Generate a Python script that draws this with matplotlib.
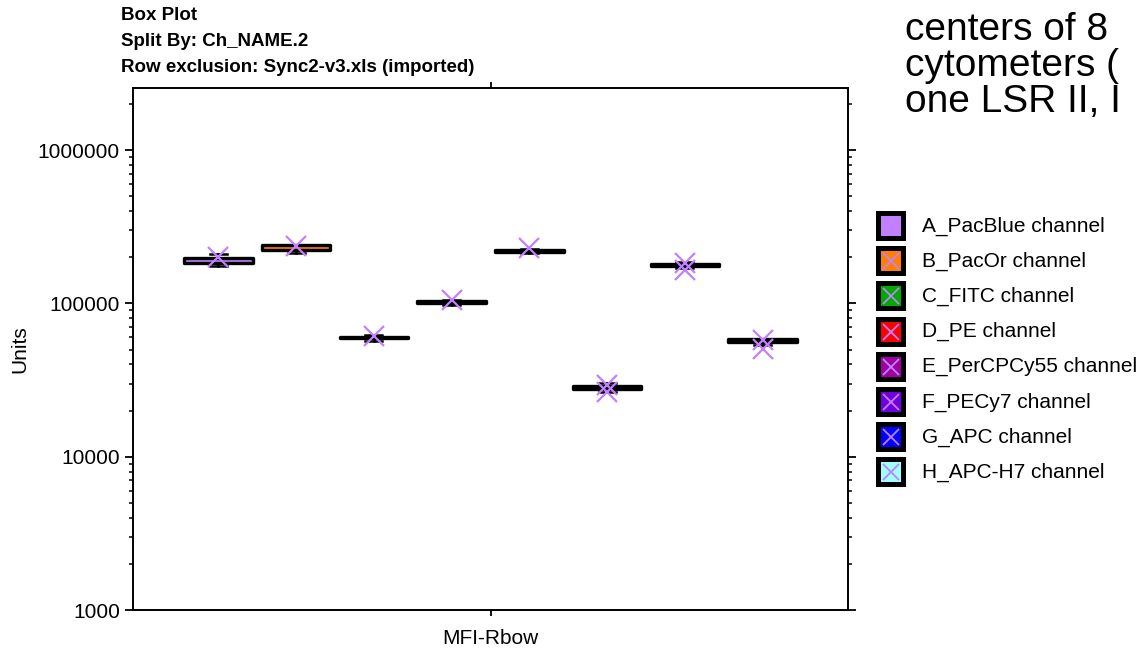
import matplotlib
matplotlib.use("Agg")
import matplotlib.pyplot as plt
from matplotlib.patches import Rectangle
from matplotlib.lines import Line2D

plt.rcParams["font.family"] = ["Liberation Sans", "DejaVu Sans"]

# channels, one box each
channels = ["A_PacBlue channel", "B_PacOr channel", "C_FITC channel", "D_PE channel",
            "E_PerCPCy55 channel", "F_PECy7 channel", "G_APC channel", "H_APC-H7 channel"]
colors = ["#C080FF", "#FF8000", "#00AA00", "#FF0000", "#A000A0", "#7000E0", "#0000FF", "#A0FFFF"]
medians = [190500, 230000, 59800, 101800, 218500, 28050, 178000, 57000]
q1 = [182700, 222300, 59020, 100800, 215800, 27450, 175900, 55590]
q3 = [198700, 238700, 60550, 102900, 221300, 28710, 180200, 58600]
whislo = [174000, 213300, 56850, 97300, 213300, 26430, 169400, 53540]
whishi = [208400, 238700, 62220, 105600, 224700, 30030, 186300, 58600]
points = [[201700], [236000], [61300], [105300], [228800],
          [29200, 26500], [182600, 165200], [58000, 50400]]
group_label = "MFI-Rbow"
title_lines = ["Box Plot", "Split By: Ch_NAME.2", "Row exclusion: Sync2-v3.xls (imported)"]
side_lines = ["centers of 8", "cytometers (", "one LSR II, I"]

W, H = 1138, 648
fig = plt.figure(figsize=(W / 100, H / 100), dpi=100)
ax = fig.add_axes([133 / W, 1 - 610 / H, (848 - 133) / W, (610 - 88) / H])

positions = list(range(1, len(channels) + 1))
stats = [dict(med=m, q1=a, q3=b, whislo=lo, whishi=hi, fliers=[])
         for m, a, b, lo, hi in zip(medians, q1, q3, whislo, whishi)]
bp = ax.bxp(stats, positions=positions, widths=0.88, capwidths=0.22, patch_artist=True,
            boxprops=dict(edgecolor="black", linewidth=2.4, joinstyle="round"),
            whiskerprops=dict(color="black", linewidth=1.8),
            capprops=dict(color="black", linewidth=1.8),
            medianprops=dict(visible=False))
for patch, c in zip(bp["boxes"], colors):
    patch.set_facecolor(c)

for pos, vals in zip(positions, points):
    ax.plot([pos] * len(vals), vals, "x", color="#C080FF", ms=14, mew=1.6, zorder=5)

ax.set_yscale("log")
ax.set_ylim(1000, 2.54e6)
ax.set_xlim(-0.1, 9.1)
ax.set_xticks([4.5])
ax.set_xticklabels([group_label])
ax.set_yticks([1000, 10000, 100000, 1000000])
ax.set_yticklabels(["1000", "10000", "100000", "1000000"])
ax.set_ylabel("Units", fontsize=15, labelpad=6)
ax.tick_params(axis="y", which="both", direction="out", left=True, right=True, labelsize=15)
ax.tick_params(axis="y", which="major", length=6, width=1.3)
ax.tick_params(axis="y", which="minor", length=3, width=1.1)
ax.tick_params(axis="x", direction="out", top=True, bottom=True, length=4, width=1.3,
               labelsize=15, pad=10)
for s in ax.spines.values():
    s.set_linewidth(1.4)

for i, line in enumerate(title_lines):
    fig.text(121 / W, 1 - (15 + 26.5 * i) / H, line, fontsize=13.5, fontweight="bold", va="center")

# slide text cut off at the right edge of the picture (baseline of last line)
fig.text(905 / W, 1 - 112 / H, "\n".join(side_lines), fontsize=28, va="baseline",
         linespacing=1.0)

# hand-drawn legend on the right
for i, (name, c) in enumerate(zip(channels, colors)):
    yc = 226 + 35.2 * i
    fig.add_artist(Rectangle((876 / W, 1 - (yc + 15) / H), 30 / W, 30 / H,
                             transform=fig.transFigure, facecolor="black", edgecolor="none"))
    fig.add_artist(Rectangle((881 / W, 1 - (yc + 10) / H), 20 / W, 20 / H,
                             transform=fig.transFigure, facecolor=c, edgecolor="none"))
    fig.add_artist(Line2D([891 / W], [1 - yc / H], transform=fig.transFigure, marker="x",
                          color="#C080FF", ms=11, mew=1.3))
    fig.text(922 / W, 1 - yc / H, name, fontsize=15, va="center")

fig.savefig("out.png", dpi=100)
